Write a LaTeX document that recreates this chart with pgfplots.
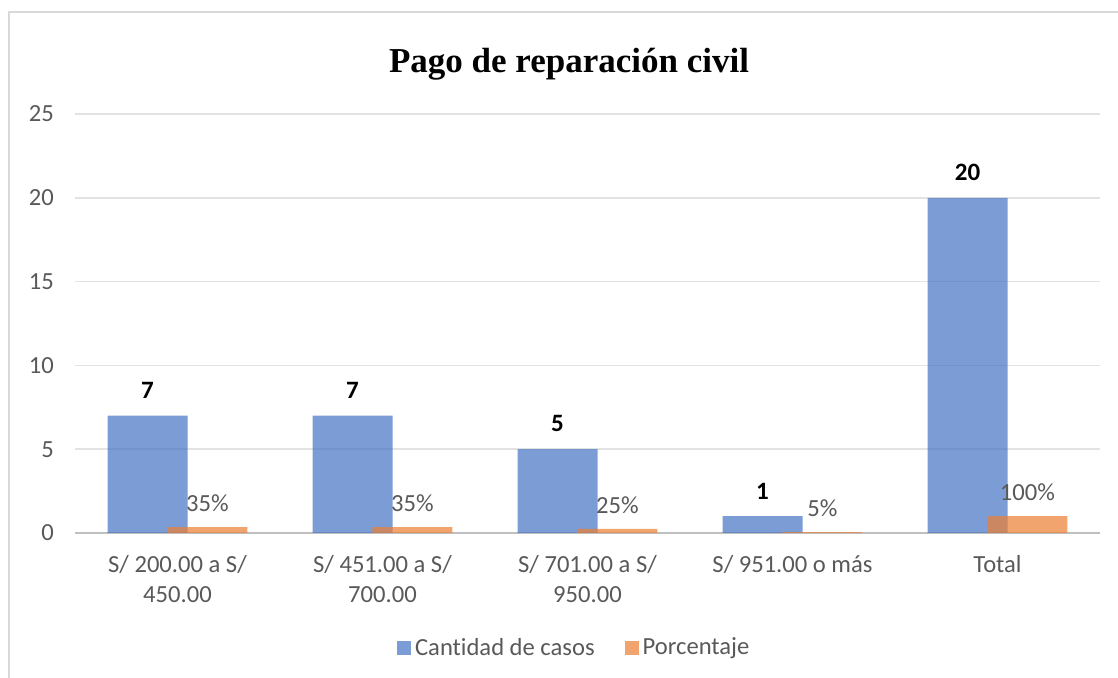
\documentclass[border=0pt]{standalone}
\usepackage{fontspec}
\setmainfont{Carlito}[Ligatures=NoCommon]
\newfontfamily\titlefont{Liberation Serif}
\usepackage{pgfplots}
\pgfplotsset{compat=1.18}
\definecolor{cblue}{HTML}{4472C4}
\definecolor{corange}{HTML}{ED7D31}
\definecolor{tickgray}{HTML}{595959}
\definecolor{gridgray}{HTML}{E3E3E3}
\definecolor{axisgray}{HTML}{BFBFBF}
\definecolor{framegray}{HTML}{D9D9D9}
\begin{document}
\begin{tikzpicture}
\path[use as bounding box] (0,0) rectangle (559pt,339pt);
\draw[framegray, line width=0.8pt] (4.5pt,-1pt) -- (4.5pt,333pt) -- (560pt,333pt);
\node[font=\titlefont\bfseries\fontsize{17.5}{20}\selectfont] at (284.5pt,307pt) {Pago de reparación civil};
\begin{axis}[
  scale only axis, width=512.5pt, height=209.5pt,
  at={(37.5pt,72.5pt)}, anchor=south west,
  ybar, bar width=0.39,
  xmin=-0.5, xmax=4.5, ymin=0, ymax=25,
  xtick={0,1,2,3,4},
  xticklabels={{S/ 200.00 a S/\\450.00},{S/ 451.00 a S/\\700.00},{S/ 701.00 a S/\\950.00},{S/ 951.00 o más},{Total}},
  ytick={0,5,10,15,20,25},
  major tick length=0pt,
  axis line style={draw=none},
  ymajorgrids, grid style={gridgray, line width=0.8pt},
  extra y ticks={0}, extra y tick labels={},
  extra y tick style={grid style={axisgray, line width=1pt}},
  /pgf/number format/assume math mode=true,
  tick label style={font=\fontsize{12.3}{15}\selectfont, text=tickgray},
  xticklabel style={align=center, yshift=-7.5pt},
  yticklabel style={xshift=-7pt},
  legend style={at={(0.488,-0.2745)}, anchor=center, draw=none, fill=none,
    legend columns=2, font=\fontsize{12.3}{15}\selectfont, text=tickgray,
    /tikz/every even column/.append style={column sep=13pt},
    /tikz/every odd column/.append style={column sep=0pt}},
  legend image code/.code={\fill[#1] (0pt,-3.5pt) rectangle (7pt,3.5pt);},
]
\addplot[fill=cblue, draw=none, fill opacity=0.7, bar shift=-0.146,
  nodes near coords, point meta=y,
  nodes near coords style={font=\bfseries\fontsize{12.5}{15}\selectfont, text=black, text opacity=1, yshift=5pt},
  every node near coord/.append style={/pgf/number format/assume math mode=true}]
  coordinates {(0,7) (1,7) (2,5) (3,1) (4,20)};
\addlegendentry{Cantidad de casos}
\addplot[fill=corange, draw=none, fill opacity=0.7, bar shift=0.146,
  nodes near coords={\pgfmathprintnumber[fixed,precision=0]{\pgfplotspointmeta}\%},
  point meta={y*100},
  nodes near coords style={font=\fontsize{12.3}{15}\selectfont, text=tickgray, text opacity=1, yshift=4pt}]
  coordinates {(0,0.35) (1,0.35) (2,0.25) (3,0.05) (4,1.00)};
\addlegendentry{Porcentaje}
\end{axis}
\end{tikzpicture}
\end{document}
